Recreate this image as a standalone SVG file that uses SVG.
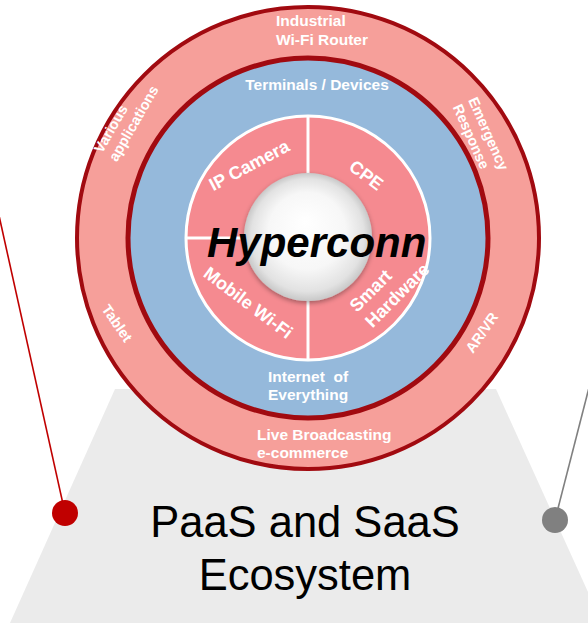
<svg xmlns="http://www.w3.org/2000/svg" width="588" height="623" viewBox="0 0 588 623">
  <defs>
    <radialGradient id="hubFill" cx="50%" cy="50%" r="50%" fx="48%" fy="38%">
      <stop offset="0" stop-color="#FFFFFF"/>
      <stop offset="0.6" stop-color="#F7F7F7"/>
      <stop offset="0.88" stop-color="#E2E2E2"/>
      <stop offset="1" stop-color="#C8C8C8"/>
    </radialGradient>
    <filter id="hubShadow" x="-20%" y="-20%" width="140%" height="140%">
      <feGaussianBlur in="SourceAlpha" stdDeviation="2.5"/>
      <feOffset dy="1.5"/>
      <feComponentTransfer><feFuncA type="linear" slope="0.35"/></feComponentTransfer>
      <feMerge><feMergeNode/><feMergeNode in="SourceGraphic"/></feMerge>
    </filter>
  </defs>
  <style>
    .lbl { font-family: "Liberation Sans", Arial, sans-serif; font-weight: bold; fill: #FFFFFF; }
    .ring-lbl { font-size: 15.5px; }
    .ring-rot { font-size: 14.5px; }
    .core-lbl { font-size: 18px; }
    .title { font-family: "Liberation Sans", Arial, sans-serif; font-size: 43.5px; fill: #000000; text-anchor: middle; }
    .ring-line { stroke: #A10A10; fill: none; }
  </style>

  <!-- base platform -->
  <g id="platform">
    <polygon points="115,389 496,389 602,623 10,623" fill="#EBEBEB"/>
    <text class="title" x="305" y="537">PaaS and SaaS</text>
    <text class="title" x="305" y="590">Ecosystem</text>
  </g>

  <!-- connectors to the side callouts -->
  <g id="connectors">
    <line x1="-8" y1="184" x2="65" y2="513" stroke="#C00000" stroke-width="1.6"/>
    <circle cx="65" cy="513" r="13" fill="#C00000"/>
    <line x1="592" y1="376" x2="555" y2="520" stroke="#808080" stroke-width="1.6"/>
    <circle cx="555" cy="520" r="13" fill="#808080"/>
  </g>

  <!-- outer ring: applications -->
  <g id="outer-ring">
    <circle cx="308" cy="238" r="231" fill="#F69F9A"/>
    <circle class="ring-line" cx="308" cy="238" r="231" stroke-width="4"/>
    <text class="lbl ring-lbl" x="276" y="26">Industrial</text>
    <text class="lbl ring-lbl" x="276" y="45">Wi-Fi Router</text>
    <g transform="translate(102,154) rotate(-60)">
      <text class="lbl ring-rot" x="0" y="0">Various</text>
      <text class="lbl ring-rot" x="0" y="17">applications</text>
    </g>
    <g transform="translate(468,100) rotate(66)">
      <text class="lbl ring-rot" x="0" y="0">Emergency</text>
      <text class="lbl ring-rot" x="0" y="17">Response</text>
    </g>
    <text class="lbl ring-rot" transform="translate(101,309) rotate(55)">Tablet</text>
    <text class="lbl ring-rot" transform="translate(473,354) rotate(-55)">AR/VR</text>
    <text class="lbl ring-lbl" x="257" y="440">Live Broadcasting</text>
    <text class="lbl ring-lbl" x="257" y="458">e-commerce</text>
  </g>

  <!-- middle ring: terminals and devices -->
  <g id="device-ring">
    <circle cx="308" cy="238" r="180" fill="#95B9DB"/>
    <circle class="ring-line" cx="308" cy="238" r="180" stroke-width="5"/>
    <text class="lbl ring-lbl" x="317" y="90" text-anchor="middle">Terminals / Devices</text>
    <text class="lbl ring-lbl" x="268" y="382" xml:space="preserve">Internet  of</text>
    <text class="lbl ring-lbl" x="268" y="400">Everything</text>
  </g>

  <!-- inner ring: four core terminal types -->
  <g id="core-ring">
    <circle cx="308" cy="238" r="122" fill="#F58A90" stroke="#FFFFFF" stroke-width="3"/>
    <line x1="308" y1="116" x2="308" y2="360" stroke="#FFFFFF" stroke-width="3"/>
    <line x1="186" y1="238" x2="308" y2="238" stroke="#FFFFFF" stroke-width="3"/>
    <text class="lbl core-lbl" text-anchor="middle" transform="translate(249,165) rotate(-28)" y="6.5">IP Camera</text>
    <text class="lbl core-lbl" text-anchor="middle" transform="translate(366.5,175) rotate(37)" y="6.5">CPE</text>
    <text class="lbl core-lbl" text-anchor="middle" transform="translate(248.5,302.5) rotate(37)" y="6.5">Mobile Wi-Fi</text>
    <g transform="translate(357,313) rotate(-45)">
      <text class="lbl core-lbl" x="0" y="0">Smart</text>
      <text class="lbl core-lbl" x="0" y="22">Hardware</text>
    </g>
  </g>

  <!-- centre hub -->
  <g id="hub">
    <circle cx="308" cy="237" r="64" fill="url(#hubFill)" filter="url(#hubShadow)"/>
    <text x="207" y="257" font-family="'Liberation Sans', Arial, sans-serif" font-size="42" font-weight="bold" font-style="italic" fill="#000000">Hyperconn</text>
  </g>
</svg>
